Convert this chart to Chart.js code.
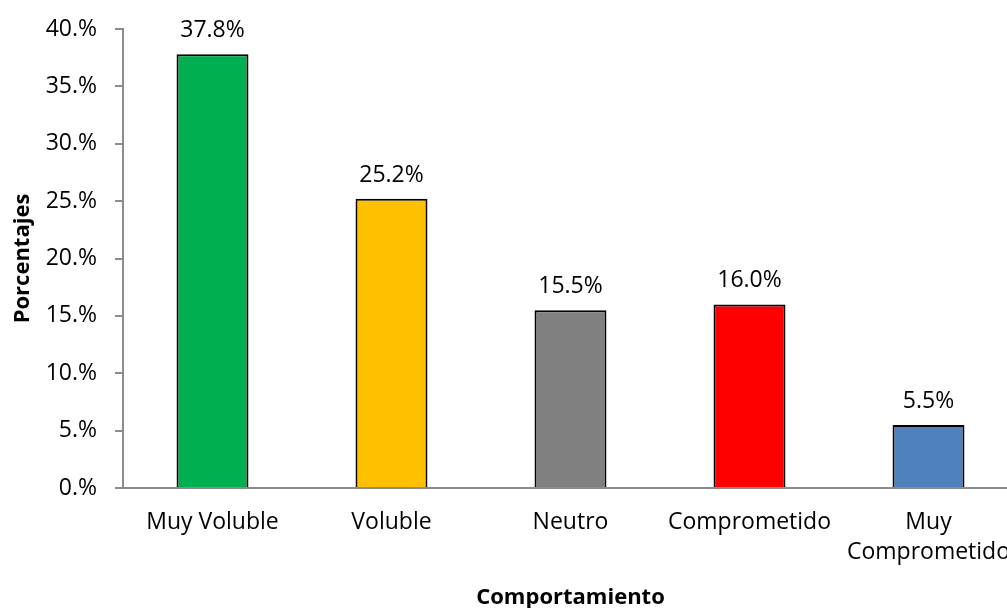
<!DOCTYPE html>
<html>
<head>
<meta charset="utf-8">
<script src="https://cdn.jsdelivr.net/npm/chart.js@4/dist/chart.umd.min.js"></script>
<style>
  html, body { margin: 0; padding: 0; background: #fff; overflow: hidden; }
  #wrap { width: 1018px; height: 608px; }
</style>
</head>
<body>
<div id="wrap"><canvas id="c" width="1018" height="608"></canvas></div>
<script>
const categories = ['Muy Voluble', 'Voluble', 'Neutro', 'Comprometido', ['Muy', 'Comprometido']];
const values = [37.8, 25.2, 15.5, 16.0, 5.5];
const valueLabels = ['37.8%', '25.2%', '15.5%', '16.0%', '5.5%'];
const barColors = ['#00B050', '#FFC000', '#808080', '#FF0000', '#4F81BD'];
const yTickLabels = ['0.%', '5.%', '10.%', '15.%', '20.%', '25.%', '30.%', '35.%', '40.%'];
const yTitle = 'Porcentajes';
const xTitle = 'Comportamiento';

const FONT = '"Open Sans", sans-serif';

const valueLabelPlugin = {
  id: 'valueLabels',
  afterDatasetsDraw(chart) {
    const ctx = chart.ctx;
    const meta = chart.getDatasetMeta(0);
    ctx.save();
    ctx.font = '23px ' + FONT;
    ctx.fillStyle = '#000';
    ctx.textAlign = 'center';
    ctx.textBaseline = 'alphabetic';
    meta.data.forEach((bar, i) => {
      ctx.fillText(valueLabels[i], bar.x, bar.y - 17);
    });
    ctx.restore();
  }
};

new Chart(document.getElementById('c'), {
  type: 'bar',
  data: {
    labels: categories,
    datasets: [{
      data: values,
      backgroundColor: barColors,
      borderColor: '#000',
      borderWidth: 2,
      categoryPercentage: 1.0,
      barPercentage: 0.402
    }]
  },
  options: {
    responsive: false,
    animation: false,
    devicePixelRatio: 1,
    layout: { padding: { top: 29, left: 0, right: 0, bottom: 0 } },
    plugins: { legend: { display: false }, tooltip: { enabled: false } },
    scales: {
      x: {
        offset: true,
        grid: { display: false, drawTicks: false },
        border: { display: true, color: '#8c8c8c', width: 2 },
        ticks: {
          color: '#000',
          font: { family: FONT, size: 23, lineHeight: 1.3 },
          padding: 20,
          maxRotation: 0,
          autoSkip: false
        },
        title: {
          display: true,
          text: xTitle,
          color: '#000',
          font: { family: FONT, size: 22, weight: 'bold', lineHeight: 0.9 },
          padding: 0
        },
        afterFit(scale) {
          scale.height = 120;
          scale.paddingLeft = 0;
          scale.paddingRight = 0;
        }
      },
      y: {
        min: 0,
        max: 40,
        ticks: {
          stepSize: 5,
          color: '#000',
          font: { family: FONT, size: 23 },
          padding: 18,
          callback: (v, i) => yTickLabels[i]
        },
        grid: { drawOnChartArea: false, drawTicks: true, tickLength: 8, color: '#8c8c8c', lineWidth: 2 },
        border: { display: true, color: '#8c8c8c', width: 2 },
        title: {
          display: true,
          text: yTitle,
          color: '#000',
          font: { family: FONT, size: 22, weight: 'bold', lineHeight: 1.2 },
          padding: { top: 10, bottom: 0 }
        },
        afterFit(scale) {
          scale.width = 123;
          scale.paddingTop = 0;
          scale.paddingBottom = 0;
        }
      }
    }
  },
  plugins: [valueLabelPlugin]
});
</script>
</body>
</html>
